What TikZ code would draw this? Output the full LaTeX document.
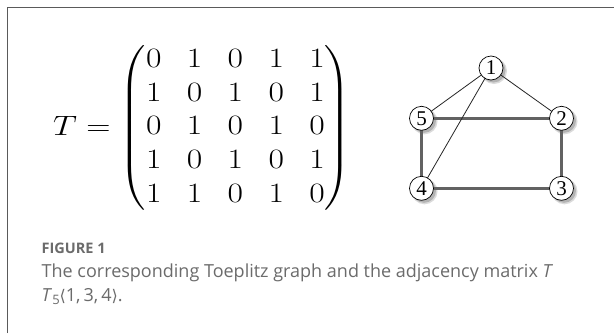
\RequirePackage{fix-cm}
\documentclass[tikz,border=0pt]{standalone}
\usepackage{amsmath}
\usepackage{graphicx}
\usepackage{fontspec}
\newfontfamily\capfont{Open Sans}
\newfontfamily\numfont{Liberation Serif}
\newfontfamily\symfont{DejaVu Sans}
\definecolor{framegray}{HTML}{5A5A5A}
\definecolor{capgray}{HTML}{6B6B6B}
\definecolor{edgegray}{HTML}{626262}
\tikzset{
  vertex/.style={circle, draw=black, line width=0.7pt, fill=white, minimum size=24pt, inner sep=0pt, font=\numfont\fontsize{21}{21}\selectfont},
  vshadow/.style={circle, fill=black!40, minimum size=24pt, inner sep=0pt},
  thinedge/.style={draw=black!85, line width=0.8pt},
  thickedge/.style={draw=edgegray, line width=2.4pt},
}
\begin{document}
\begin{tikzpicture}[x=1pt,y=-1pt]
\useasboundingbox (0,0) rectangle (614,333);
\fill[white] (0,0) rectangle (614,333);
% frame
\draw[framegray, line width=1.5pt] (7.5,333) -- (7.5,7.5) -- (614,7.5);
% matrix
\node[anchor=west, inner sep=0pt] (mat) at (53,128) {\scalebox{1.2}[1]{\fontsize{28}{33.75}\selectfont\setlength\arraycolsep{10.6pt}$T = \begin{pmatrix}
0 & 1 & 0 & 1 & 1\\
1 & 0 & 1 & 0 & 1\\
0 & 1 & 0 & 1 & 0\\
1 & 0 & 1 & 0 & 1\\
1 & 1 & 0 & 1 & 0
\end{pmatrix}$}};
% graph
\coordinate (p1) at (491,68);
\coordinate (p2) at (561.5,118.3);
\coordinate (p3) at (561.5,188.3);
\coordinate (p4) at (421.5,188.3);
\coordinate (p5) at (421.5,118.3);
\foreach \p in {p1,p2,p3,p4,p5}{
  \node[vshadow, opacity=0.35, minimum size=26pt] at ([shift={(3,3)}]\p) {};
  \node[vshadow, opacity=0.6] at ([shift={(2.5,2.5)}]\p) {};
}
\path[thickedge] (p5) -- (p2);
\path[thickedge] (p5) -- (p4);
\path[thickedge] (p2) -- (p3);
\path[thickedge] (p4) -- (p3);
\path[thinedge] (p1) -- (p5);
\path[thinedge] (p1) -- (p2);
\path[thinedge] (p1) -- (p4);
\node[vertex] (v1) at (p1) {1};
\node[vertex] (v2) at (p2) {2};
\node[vertex] (v3) at (p3) {3};
\node[vertex] (v4) at (p4) {4};
\node[vertex] (v5) at (p5) {5};
% caption
\node[anchor=base west, inner sep=0pt, text=capgray, font=\capfont\bfseries\fontsize{14.5}{16}\selectfont] (fig) at (41.5,253.3) {FIGURE 1};
\node[anchor=base west, inner sep=0pt, text=capgray, font=\capfont\fontsize{18}{22}\selectfont] (cap1) at (41.5,277.3) {The corresponding Toeplitz graph and the adjacency matrix \textit{T}};
\node[anchor=base west, inner sep=0pt, text=capgray, font=\capfont\fontsize{18}{22}\selectfont] (cap2) at (41.5,301) {\textit{T}\raisebox{-3pt}{\fontsize{13}{13}\selectfont 5}{\symfont\fontsize{16}{18}\selectfont ⟨}1,\,3,\,4{\symfont\fontsize{16}{18}\selectfont ⟩}.};
\end{tikzpicture}
\end{document}
